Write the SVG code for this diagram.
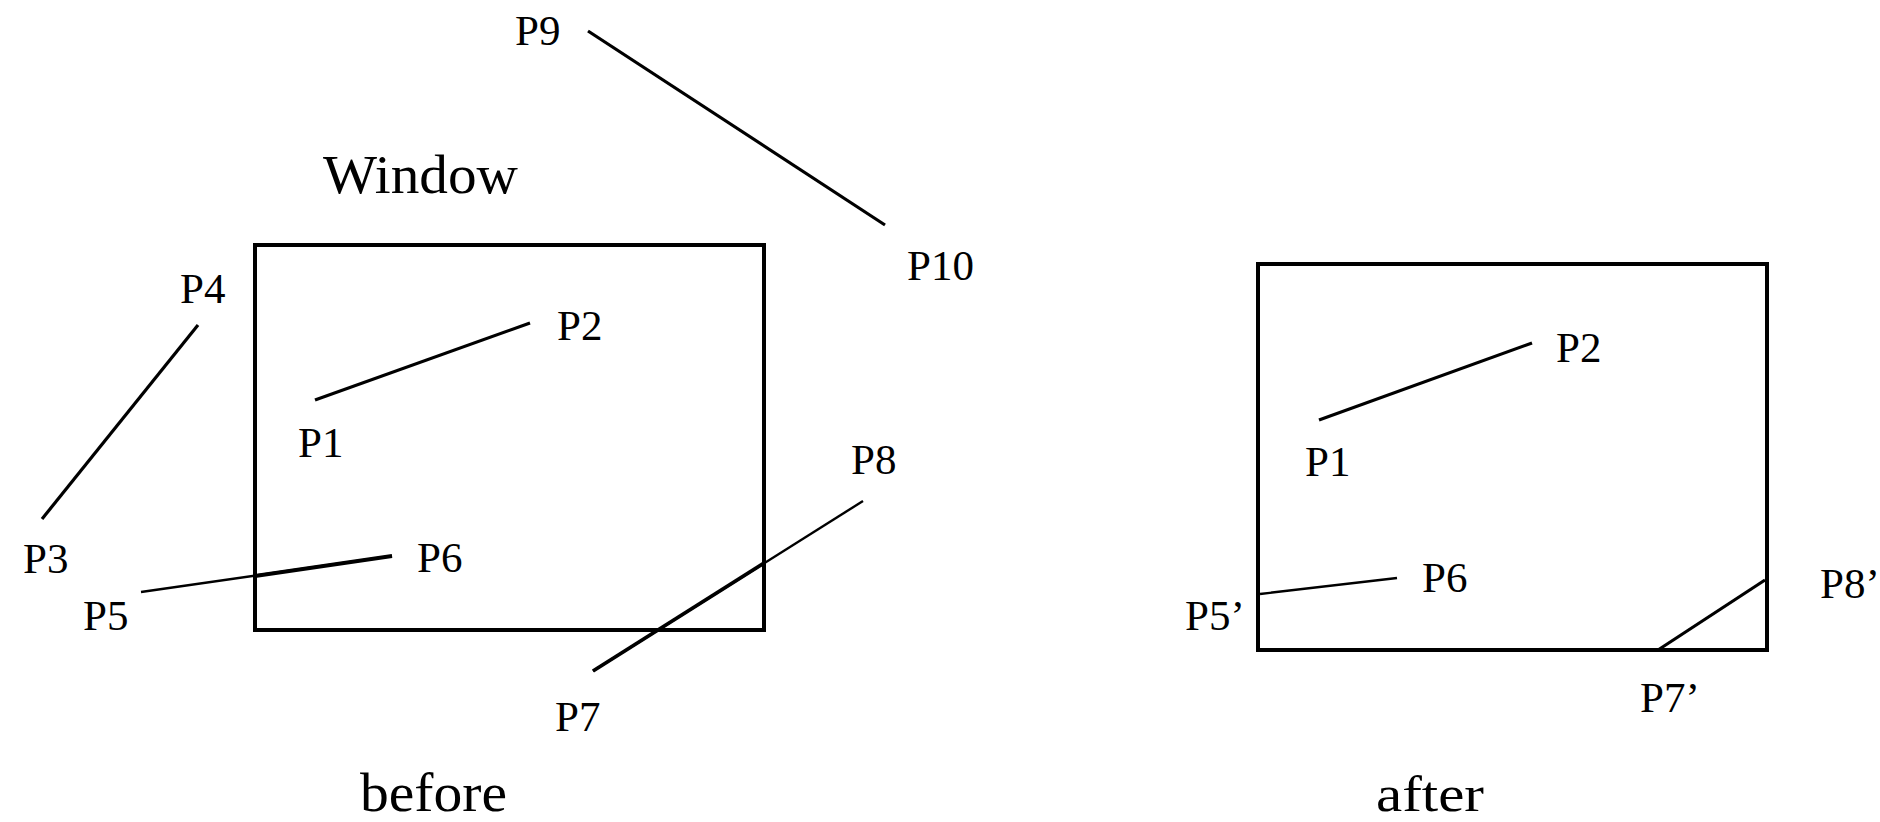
<svg xmlns="http://www.w3.org/2000/svg" width="1880" height="822" viewBox="0 0 1880 822">
<style>
.bg{fill:#ffffff}
.win{fill:none;stroke:#000;stroke-width:4}
.ln{stroke:#000;stroke-width:3.2;stroke-linecap:butt;fill:none}
.thin{stroke:#000;stroke-width:2.4;fill:none}
.clip{stroke:#000;stroke-width:3.8;fill:none}
.lbl{font-family:"Liberation Serif","Times New Roman",serif;font-size:43px;fill:#000}
.cap{font-family:"Liberation Serif","Times New Roman",serif;font-size:54px;fill:#000}
</style>
<rect class="bg" x="0" y="0" width="1880" height="822"/>
<g id="window-before"><rect class="win" x="255" y="245" width="509" height="385"/></g>
<g id="window-after"><rect class="win" x="1258" y="264" width="509" height="386"/></g>
<g id="connectors">
<line class="ln" x1="588" y1="31" x2="885" y2="225"/>
<line class="ln" x1="315" y1="400" x2="530" y2="323"/>
<line class="ln" x1="198" y1="325" x2="42" y2="519"/>
<line class="thin" x1="141" y1="592" x2="392" y2="556"/>
<line class="clip" x1="255" y1="576" x2="392" y2="556"/>
<line class="thin" x1="593" y1="671" x2="863" y2="501"/>
<line class="clip" x1="593" y1="671" x2="764" y2="563"/>
<line class="ln" x1="1319" y1="420" x2="1532" y2="343"/>
<line class="thin" x1="1260" y1="594" x2="1397" y2="578"/>
<line class="ln" x1="1658" y1="650" x2="1765" y2="580"/>
</g>
<g id="labels-before">
<text class="lbl" x="515" y="45">P9</text>
<text class="lbl" x="907" y="280">P10</text>
<text class="lbl" x="180" y="303">P4</text>
<text class="lbl" x="557" y="340">P2</text>
<text class="lbl" x="298" y="457">P1</text>
<text class="lbl" x="23" y="573">P3</text>
<text class="lbl" x="417" y="572">P6</text>
<text class="lbl" x="83" y="630">P5</text>
<text class="lbl" x="851" y="474">P8</text>
<text class="lbl" x="555" y="731">P7</text>
<text class="cap" x="323" y="193" textLength="195" lengthAdjust="spacingAndGlyphs">Window</text>
<text class="cap" x="360" y="811" textLength="147" lengthAdjust="spacingAndGlyphs">before</text>
</g>
<g id="labels-after">
<text class="lbl" x="1556" y="362">P2</text>
<text class="lbl" x="1305" y="476">P1</text>
<text class="lbl" x="1422" y="592">P6</text>
<text class="lbl" x="1185" y="630">P5’</text>
<text class="lbl" x="1820" y="598">P8’</text>
<text class="lbl" x="1640" y="712">P7’</text>
<text class="cap" x="1376" y="811" style="font-size:50px" textLength="108" lengthAdjust="spacingAndGlyphs">after</text>
</g>
</svg>
